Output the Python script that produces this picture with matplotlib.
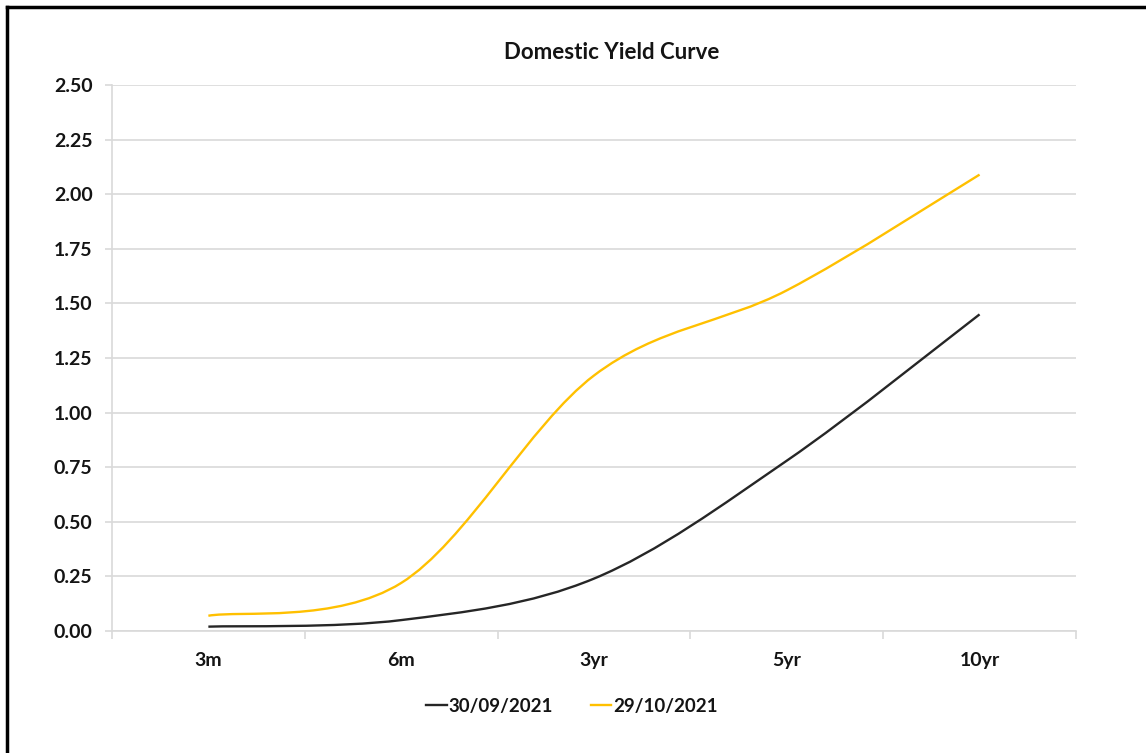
import matplotlib.pyplot as plt
from matplotlib.patches import PathPatch
from matplotlib.path import Path
from matplotlib.lines import Line2D
from matplotlib.ticker import MultipleLocator, FixedLocator

plt.rcParams['font.family'] = ['Lato', 'DejaVu Sans']
plt.rcParams['font.weight'] = 'bold'

tenors = ["3m", "6m", "3yr", "5yr", "10yr"]
yield_sep = [0.02, 0.05, 0.24, 0.78, 1.45]
yield_oct = [0.07, 0.22, 1.17, 1.56, 2.09]
series_labels = ["30/09/2021", "29/10/2021"]
series_colors = ["#262626", "#FFC000"]

fig = plt.figure(figsize=(11.46, 7.53), dpi=100)
ax = fig.add_axes([0.0977, 0.162, 0.8412, 0.725])


def smooth_path(ys):
    # Catmull-Rom style bezier through the points, like a spreadsheet "smoothed line"
    pts = [(float(i), float(v)) for i, v in enumerate(ys)]
    n = len(pts)
    verts = [pts[0]]
    codes = [Path.MOVETO]
    for i in range(n - 1):
        p0 = pts[i - 1] if i > 0 else pts[i]
        p1 = pts[i]
        p2 = pts[i + 1]
        p3 = pts[i + 2] if i + 2 < n else pts[i + 1]
        c1 = (p1[0] + (p2[0] - p0[0]) / 6, p1[1] + (p2[1] - p0[1]) / 6)
        c2 = (p2[0] - (p3[0] - p1[0]) / 6, p2[1] - (p3[1] - p1[1]) / 6)
        verts += [c1, c2, p2]
        codes += [Path.CURVE4] * 3
    return Path(verts, codes)


for ys, col in zip([yield_sep, yield_oct], series_colors):
    ax.add_patch(PathPatch(smooth_path(ys), facecolor="none", edgecolor=col,
                           linewidth=1.7, capstyle="butt", zorder=3))

ax.set_xlim(-0.5, len(tenors) - 0.5)
ax.set_ylim(0, 2.5)
ax.yaxis.set_major_locator(MultipleLocator(0.25))
ax.yaxis.set_major_formatter(lambda v, p: f"{v:.2f}")
ax.set_xticks(range(len(tenors)))
ax.set_xticklabels(tenors)
ax.xaxis.set_minor_locator(FixedLocator([i - 0.5 for i in range(len(tenors) + 1)]))

ax.grid(axis="y", color="#d9d9d9", linewidth=1.2)
ax.set_axisbelow(True)
for s in ["top", "right"]:
    ax.spines[s].set_visible(False)
for s in ["left", "bottom"]:
    ax.spines[s].set_color("#d9d9d9")
    ax.spines[s].set_linewidth(1.2)

ax.tick_params(axis="y", length=5, width=1.2, color="#d9d9d9", pad=9,
               labelsize=14, labelcolor="#141414")
ax.tick_params(axis="x", which="major", length=0, pad=15, labelsize=14,
               labelcolor="#141414")
ax.tick_params(axis="x", which="minor", length=6, width=1.2, color="#d9d9d9")

ax.set_title("Domestic Yield Curve", fontsize=16, fontweight="bold",
             color="#141414", pad=19, x=0.518)

handles = [Line2D([], [], color=c, linewidth=1.7) for c in series_colors]
fig.legend(handles, series_labels, loc="center", bbox_to_anchor=(0.499, 0.062),
           ncol=2, frameon=False, fontsize=13.5, handlelength=1.1,
           handletextpad=0.1, columnspacing=2.0, labelcolor="#141414")

# outer frame: heavy black edge on top and left
fig.add_artist(Line2D([0.0061, 1.0], [0.9907, 0.9907], color="black",
                      linewidth=2.5, transform=fig.transFigure))
fig.add_artist(Line2D([0.0061, 0.0061], [0.0, 0.9907], color="black",
                      linewidth=2.5, transform=fig.transFigure))

fig.savefig("out.png", dpi=100)
